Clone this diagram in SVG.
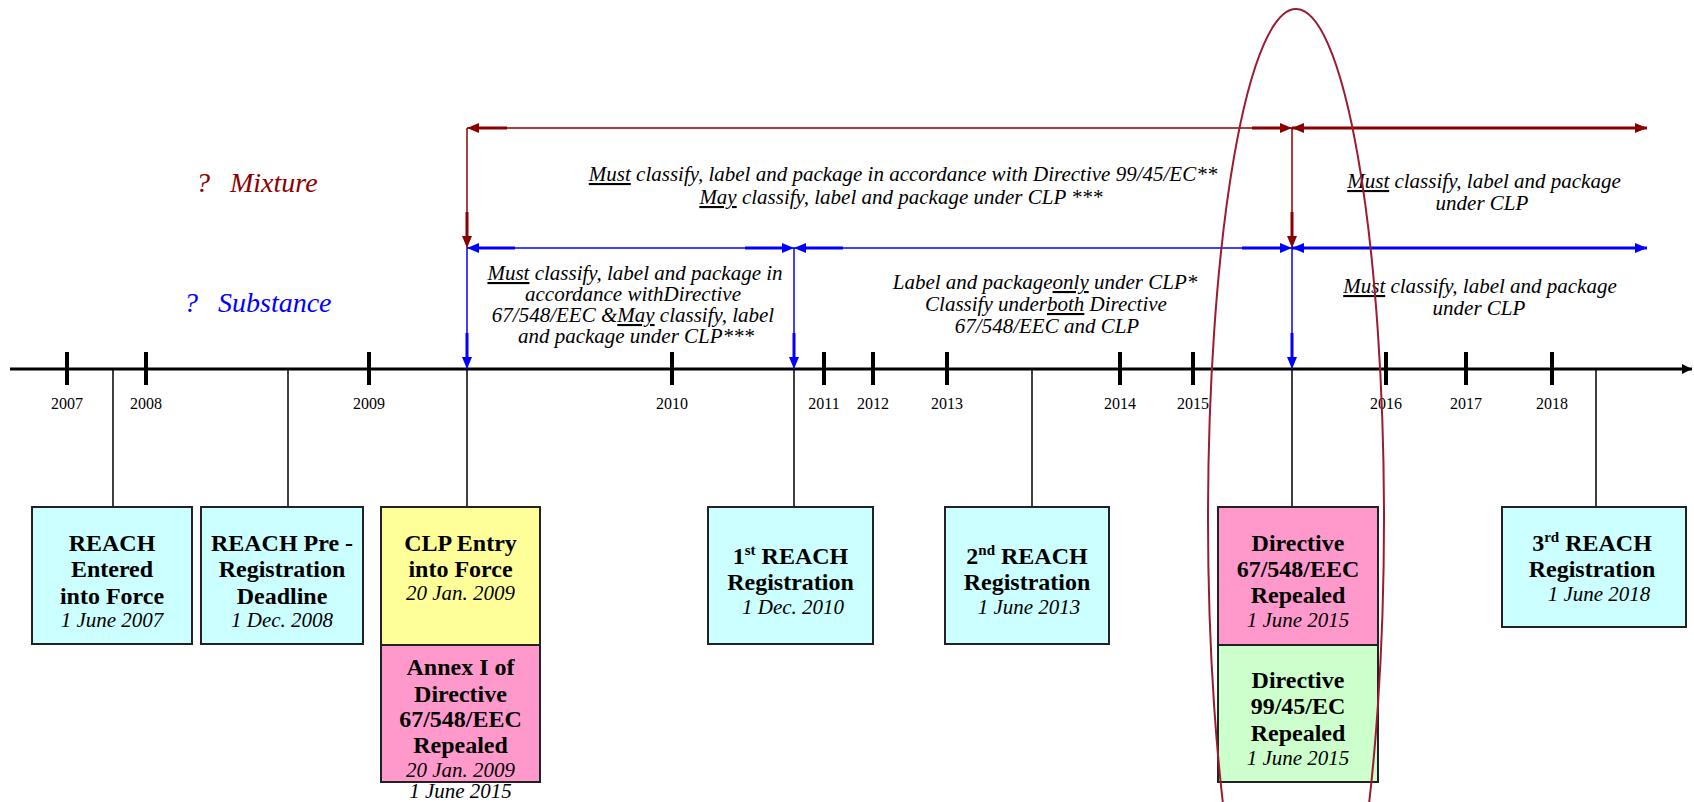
<svg xmlns="http://www.w3.org/2000/svg" width="1694" height="802" viewBox="0 0 1694 802">
<style>
  .yr{font-family:"Liberation Serif",serif;font-size:16px;fill:#000;text-anchor:middle}
  .bt{font-family:"Liberation Serif",serif;font-size:24px;font-weight:bold;fill:#000;text-anchor:middle}
  .dt{font-family:"Liberation Serif",serif;font-size:21px;font-style:italic;fill:#000;text-anchor:middle}
  .nt{font-family:"Liberation Serif",serif;font-size:21px;font-style:italic;fill:#000;text-anchor:middle}
  .u{text-decoration:underline}
  .box{stroke:#222;stroke-width:2}
  .cyan{fill:#CCFFFF}.yel{fill:#FFFF99}.pink{fill:#FF99CC}.grn{fill:#CCFFCC}
  .drop{stroke:#000;stroke-width:1.5}
  .tick{stroke:#000;stroke-width:4}
  .red{stroke:#8B0000;fill:none}
  .blue{stroke:#0000FF;fill:none}
</style>
<defs>
  <marker id="ar" viewBox="0 0 12 10" refX="12" refY="5" markerWidth="12" markerHeight="10" markerUnits="userSpaceOnUse" orient="auto-start-reverse"><path d="M0,0 L12,5 L0,10 z" fill="#8B0000"/></marker>
  <marker id="ab" viewBox="0 0 12 10" refX="12" refY="5" markerWidth="12" markerHeight="10" markerUnits="userSpaceOnUse" orient="auto-start-reverse"><path d="M0,0 L12,5 L0,10 z" fill="#0000FF"/></marker>
  <marker id="ak" viewBox="0 0 10 10" refX="10" refY="5" markerWidth="10" markerHeight="10" markerUnits="userSpaceOnUse" orient="auto"><path d="M0,0 L10,5 L0,10 z" fill="#000"/></marker>
</defs>

<g id="axis">
  <line x1="10" y1="369" x2="1692" y2="369" stroke="#000" stroke-width="3" marker-end="url(#ak)"/>
  <line class="tick" x1="67" y1="352" x2="67" y2="385"/>
  <line class="tick" x1="146" y1="352" x2="146" y2="385"/>
  <line class="tick" x1="369" y1="352" x2="369" y2="385"/>
  <line class="tick" x1="672" y1="352" x2="672" y2="385"/>
  <line class="tick" x1="824" y1="352" x2="824" y2="385"/>
  <line class="tick" x1="873" y1="352" x2="873" y2="385"/>
  <line class="tick" x1="947" y1="352" x2="947" y2="385"/>
  <line class="tick" x1="1120" y1="352" x2="1120" y2="385"/>
  <line class="tick" x1="1193" y1="352" x2="1193" y2="385"/>
  <line class="tick" x1="1386" y1="352" x2="1386" y2="385"/>
  <line class="tick" x1="1466" y1="352" x2="1466" y2="385"/>
  <line class="tick" x1="1552" y1="352" x2="1552" y2="385"/>
  <text class="yr" x="67" y="409">2007</text>
  <text class="yr" x="146" y="409">2008</text>
  <text class="yr" x="369" y="409">2009</text>
  <text class="yr" x="672" y="409">2010</text>
  <text class="yr" x="824" y="409">2011</text>
  <text class="yr" x="873" y="409">2012</text>
  <text class="yr" x="947" y="409">2013</text>
  <text class="yr" x="1120" y="409">2014</text>
  <text class="yr" x="1193" y="409">2015</text>
  <text class="yr" x="1386" y="409">2016</text>
  <text class="yr" x="1466" y="409">2017</text>
  <text class="yr" x="1552" y="409">2018</text>
</g>

<g id="connectors">
  <line class="drop" x1="113" y1="369" x2="113" y2="507"/>
  <line class="drop" x1="288" y1="369" x2="288" y2="507"/>
  <line class="drop" x1="467" y1="369" x2="467" y2="507"/>
  <line class="drop" x1="794" y1="369" x2="794" y2="507"/>
  <line class="drop" x1="1032" y1="369" x2="1032" y2="507"/>
  <line class="drop" x1="1292" y1="369" x2="1292" y2="507"/>
  <line class="drop" x1="1596" y1="369" x2="1596" y2="507"/>
  <line class="red" x1="467" y1="128" x2="1292" y2="128" stroke-width="1.5" marker-start="url(#ar)" marker-end="url(#ar)"/>
  <line class="red" x1="479" y1="128" x2="507" y2="128" stroke-width="3"/>
  <line class="red" x1="1252" y1="128" x2="1280" y2="128" stroke-width="3"/>
  <line class="red" x1="1292" y1="128" x2="1647" y2="128" stroke-width="3" marker-start="url(#ar)" marker-end="url(#ar)"/>
  <line class="red" x1="467" y1="128" x2="467" y2="248" stroke-width="1.5" marker-end="url(#ar)"/>
  <line class="red" x1="467" y1="212" x2="467" y2="236" stroke-width="3"/>
  <line class="red" x1="1292" y1="128" x2="1292" y2="248" stroke-width="1.5" marker-end="url(#ar)"/>
  <line class="red" x1="1292" y1="212" x2="1292" y2="236" stroke-width="3"/>
  <line class="blue" x1="467" y1="248" x2="794" y2="248" stroke-width="1.5" marker-start="url(#ab)" marker-end="url(#ab)"/>
  <line class="blue" x1="479" y1="248" x2="515" y2="248" stroke-width="3"/>
  <line class="blue" x1="745" y1="248" x2="782" y2="248" stroke-width="3"/>
  <line class="blue" x1="794" y1="248" x2="1292" y2="248" stroke-width="1.5" marker-start="url(#ab)" marker-end="url(#ab)"/>
  <line class="blue" x1="806" y1="248" x2="843" y2="248" stroke-width="3"/>
  <line class="blue" x1="1242" y1="248" x2="1280" y2="248" stroke-width="3"/>
  <line class="blue" x1="1292" y1="248" x2="1647" y2="248" stroke-width="3" marker-start="url(#ab)" marker-end="url(#ab)"/>
  <line class="blue" x1="467" y1="248" x2="467" y2="369" stroke-width="1.5" marker-end="url(#ab)"/>
  <line class="blue" x1="467" y1="333" x2="467" y2="357" stroke-width="3"/>
  <line class="blue" x1="794" y1="248" x2="794" y2="369" stroke-width="1.5" marker-end="url(#ab)"/>
  <line class="blue" x1="794" y1="333" x2="794" y2="357" stroke-width="3"/>
  <line class="blue" x1="1292" y1="248" x2="1292" y2="369" stroke-width="1.5" marker-end="url(#ab)"/>
  <line class="blue" x1="1292" y1="333" x2="1292" y2="357" stroke-width="3"/>
</g>

<g id="legend">
  <text font-family="Liberation Serif, serif" font-size="28" font-style="italic" fill="#8B0000" y="192"><tspan x="196">?</tspan><tspan x="230">Mixture</tspan></text>
  <text font-family="Liberation Serif, serif" font-size="28" font-style="italic" fill="#0000FF" y="312"><tspan x="184">?</tspan><tspan x="218">Substance</tspan></text>
</g>

<g id="notes">
  <text class="nt" x="903" y="181"><tspan class="u">Must</tspan> classify, label and package in accordance with Directive 99/45/EC**</text>
  <text class="nt" x="901" y="204"><tspan class="u">May</tspan> classify, label and package under CLP ***</text>
  <text class="nt" x="1484" y="188"><tspan class="u">Must</tspan> classify, label and package</text>
  <text class="nt" x="1482" y="210">under CLP</text>
  <text class="nt" x="635" y="280"><tspan class="u">Must</tspan> classify, label and package in</text>
  <text class="nt" x="633" y="301">accordance withDirective</text>
  <text class="nt" x="633" y="322">67/548/EEC &amp;<tspan class="u">May</tspan> classify, label</text>
  <text class="nt" x="636" y="343">and package under CLP***</text>
  <text class="nt" x="1045" y="289">Label and package<tspan class="u">only</tspan> under CLP*</text>
  <text class="nt" x="1046" y="311">Classify under<tspan class="u">both</tspan> Directive</text>
  <text class="nt" x="1047" y="333">67/548/EEC and CLP</text>
  <text class="nt" x="1480" y="293"><tspan class="u">Must</tspan> classify, label and package</text>
  <text class="nt" x="1479" y="315">under CLP</text>
</g>

<g id="reach-entered">
  <rect class="box cyan" x="32" y="507" width="160" height="137"/>
  <text class="bt" x="112" y="551">REACH</text>
  <text class="bt" x="112" y="577">Entered</text>
  <text class="bt" x="112" y="604">into Force</text>
  <text class="dt" x="112" y="627">1 June 2007</text>
</g>
<g id="reach-prereg">
  <rect class="box cyan" x="201" y="507" width="162" height="137"/>
  <text class="bt" x="282" y="551">REACH Pre -</text>
  <text class="bt" x="282" y="577">Registration</text>
  <text class="bt" x="282" y="604">Deadline</text>
  <text class="dt" x="282" y="627">1 Dec. 2008</text>
</g>
<g id="clp-entry">
  <rect class="box yel" x="381" y="507" width="159" height="138"/>
  <text class="bt" x="460.5" y="551">CLP Entry</text>
  <text class="bt" x="460.5" y="577">into Force</text>
  <text class="dt" x="460.5" y="600">20 Jan. 2009</text>
</g>
<g id="annex-repealed">
  <rect class="box pink" x="381" y="645" width="159" height="137"/>
  <text class="bt" x="460.5" y="675">Annex I of</text>
  <text class="bt" x="460.5" y="702">Directive</text>
  <text class="bt" x="460.5" y="727">67/548/EEC</text>
  <text class="bt" x="460.5" y="753">Repealed</text>
  <text class="dt" x="460.5" y="777">20 Jan. 2009</text>
  <text class="dt" x="460.5" y="798">1 June 2015</text>
</g>
<g id="reach-1st">
  <rect class="box cyan" x="708" y="507" width="165" height="137"/>
  <text class="bt" x="790.5" y="564">1<tspan font-size="15" dy="-9">st</tspan><tspan dy="9"> REACH</tspan></text>
  <text class="bt" x="790.5" y="590">Registration</text>
  <text class="dt" x="793" y="614">1 Dec. 2010</text>
</g>
<g id="reach-2nd">
  <rect class="box cyan" x="945" y="507" width="164" height="137"/>
  <text class="bt" x="1027" y="564">2<tspan font-size="15" dy="-9">nd</tspan><tspan dy="9"> REACH</tspan></text>
  <text class="bt" x="1027" y="590">Registration</text>
  <text class="dt" x="1029" y="614">1 June 2013</text>
</g>
<g id="dir67-repealed">
  <rect class="box pink" x="1218" y="507" width="160" height="138"/>
  <text class="bt" x="1298" y="551">Directive</text>
  <text class="bt" x="1298" y="577">67/548/EEC</text>
  <text class="bt" x="1298" y="603">Repealed</text>
  <text class="dt" x="1298" y="627">1 June 2015</text>
</g>
<g id="dir99-repealed">
  <rect class="box grn" x="1218" y="645" width="160" height="137"/>
  <text class="bt" x="1298" y="688">Directive</text>
  <text class="bt" x="1298" y="714">99/45/EC</text>
  <text class="bt" x="1298" y="741">Repealed</text>
  <text class="dt" x="1298" y="765">1 June 2015</text>
</g>
<g id="reach-3rd">
  <rect class="box cyan" x="1502" y="507" width="184" height="120"/>
  <text class="bt" x="1592" y="551">3<tspan font-size="15" dy="-9">rd</tspan><tspan dy="9"> REACH</tspan></text>
  <text class="bt" x="1592" y="577">Registration</text>
  <text class="dt" x="1599" y="601">1 June 2018</text>
</g>

<g id="highlight">
  <ellipse cx="1296" cy="519" rx="88" ry="510" fill="none" stroke="#9B1B30" stroke-width="2"/>
</g>
</svg>
